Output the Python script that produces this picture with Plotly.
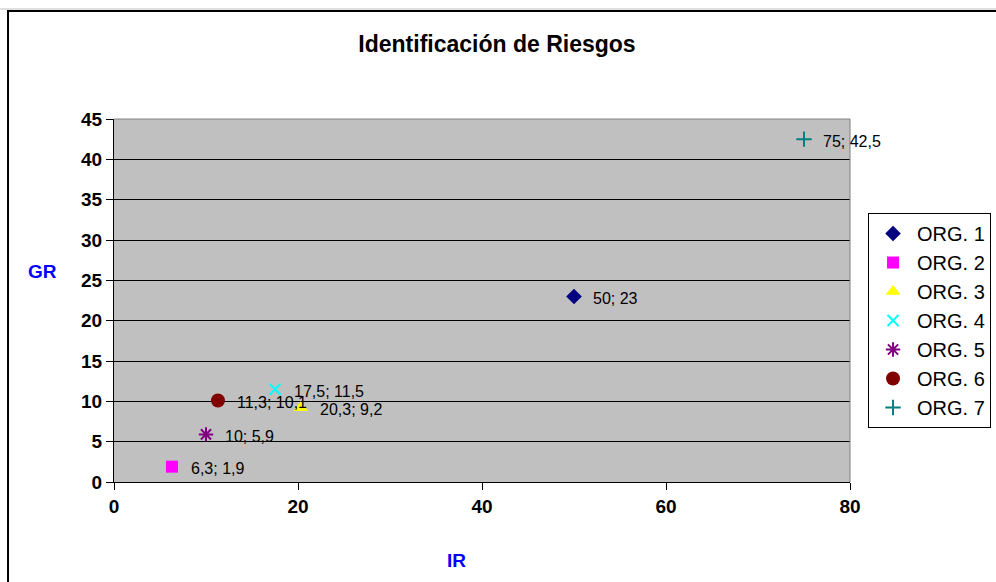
import plotly.graph_objects as go

names = ["ORG. 1", "ORG. 2", "ORG. 3", "ORG. 4", "ORG. 5", "ORG. 6", "ORG. 7"]
ir_values = [50, 6.3, 20.3, 17.5, 10, 11.3, 75]
gr_values = [23, 1.9, 9.2, 11.5, 5.9, 10.1, 42.5]
point_labels = ["50; 23", "6,3; 1,9", "20,3; 9,2", "17,5; 11,5", "10; 5,9", "11,3; 10,1", "75; 42,5"]
colors = ["#000080", "#FF00FF", "#FFFF00", "#00FFFF", "#800080", "#800000", "#008080"]
symbols = ["diamond", "square", "triangle-up", "x-thin-open", "asterisk-open", "circle", "cross-thin-open"]
sizes = [12, 12, 13, 11, 12, 14, 11]

FONT = "Arial, Liberation Sans, sans-serif"

fig = go.Figure()
for n, x, y, c, s, sz in zip(names, ir_values, gr_values, colors, symbols, sizes):
    fig.add_trace(go.Scatter(
        x=[x], y=[y], mode="markers", name=n,
        marker=dict(color=c, symbol=s, size=sz, line=dict(color=c, width=2 if "open" in s else 0)),
        cliponaxis=False,
    ))

for x, y, t in zip(ir_values, gr_values, point_labels):
    fig.add_annotation(x=x, y=y, text=t, showarrow=False, xanchor="left", yanchor="middle",
                       xshift=17, yshift=-2, font=dict(family=FONT, size=16, color="black"))

# axis titles
fig.add_annotation(x=-0.0965, y=0.581, xref="paper", yref="paper", text="<b>GR</b>", showarrow=False,
                   xanchor="center", yanchor="middle",
                   font=dict(family=FONT, size=19, color="#0000FF"))
fig.add_annotation(x=0.4647, y=-0.2176, xref="paper", yref="paper", text="<b>IR</b>", showarrow=False,
                   xanchor="center", yanchor="middle",
                   font=dict(family=FONT, size=19, color="#0000FF"))

# plot-area top/right gray border
fig.add_shape(type="line", xref="paper", yref="paper", x0=0, x1=1, y0=1, y1=1,
              line=dict(color="#808080", width=1), layer="above")
fig.add_shape(type="line", xref="paper", yref="paper", x0=1, x1=1, y0=0, y1=1,
              line=dict(color="#808080", width=1), layer="above")
# outer chart frame
fig.add_shape(type="line", xref="paper", yref="paper", x0=-0.16, x1=1.35, y0=1.303, y1=1.303,
              line=dict(color="#C0C0C0", width=1))
fig.add_shape(type="rect", xref="paper", yref="paper", x0=-0.144, x1=1.35, y0=-0.35, y1=1.2975,
              line=dict(color="black", width=2))

fig.update_layout(
    width=996, height=582,
    margin=dict(l=114, r=146, t=119, b=100, autoexpand=False),
    paper_bgcolor="white", plot_bgcolor="#C0C0C0",
    font=dict(family=FONT, color="black"),
    title=dict(text="<b>Identificación de Riesgos</b>", x=0.499, xanchor="center",
               y=1 - 44 / 582, yanchor="middle", font=dict(family=FONT, size=23, color="black")),
    showlegend=True,
    legend=dict(x=1.0245, y=0.741, xanchor="left", yanchor="top", bgcolor="white",
                bordercolor="black", borderwidth=1, itemwidth=38, entrywidth=140,
                font=dict(family=FONT, size=20, color="black")),
    xaxis=dict(range=[0, 80], dtick=20, showgrid=False, zeroline=False, showline=True,
               linecolor="black", linewidth=1, ticks="outside", ticklen=7, tickcolor="black",
               tickfont=dict(family=FONT, size=19, color="black", weight="bold")),
    yaxis=dict(range=[0, 45], dtick=5, showgrid=True, gridcolor="black", gridwidth=1,
               zeroline=False, showline=True, linecolor="black", linewidth=1,
               ticks="outside", ticklen=7, tickcolor="black",
               tickfont=dict(family=FONT, size=19, color="black", weight="bold")),
)

fig.write_html("out.html")
